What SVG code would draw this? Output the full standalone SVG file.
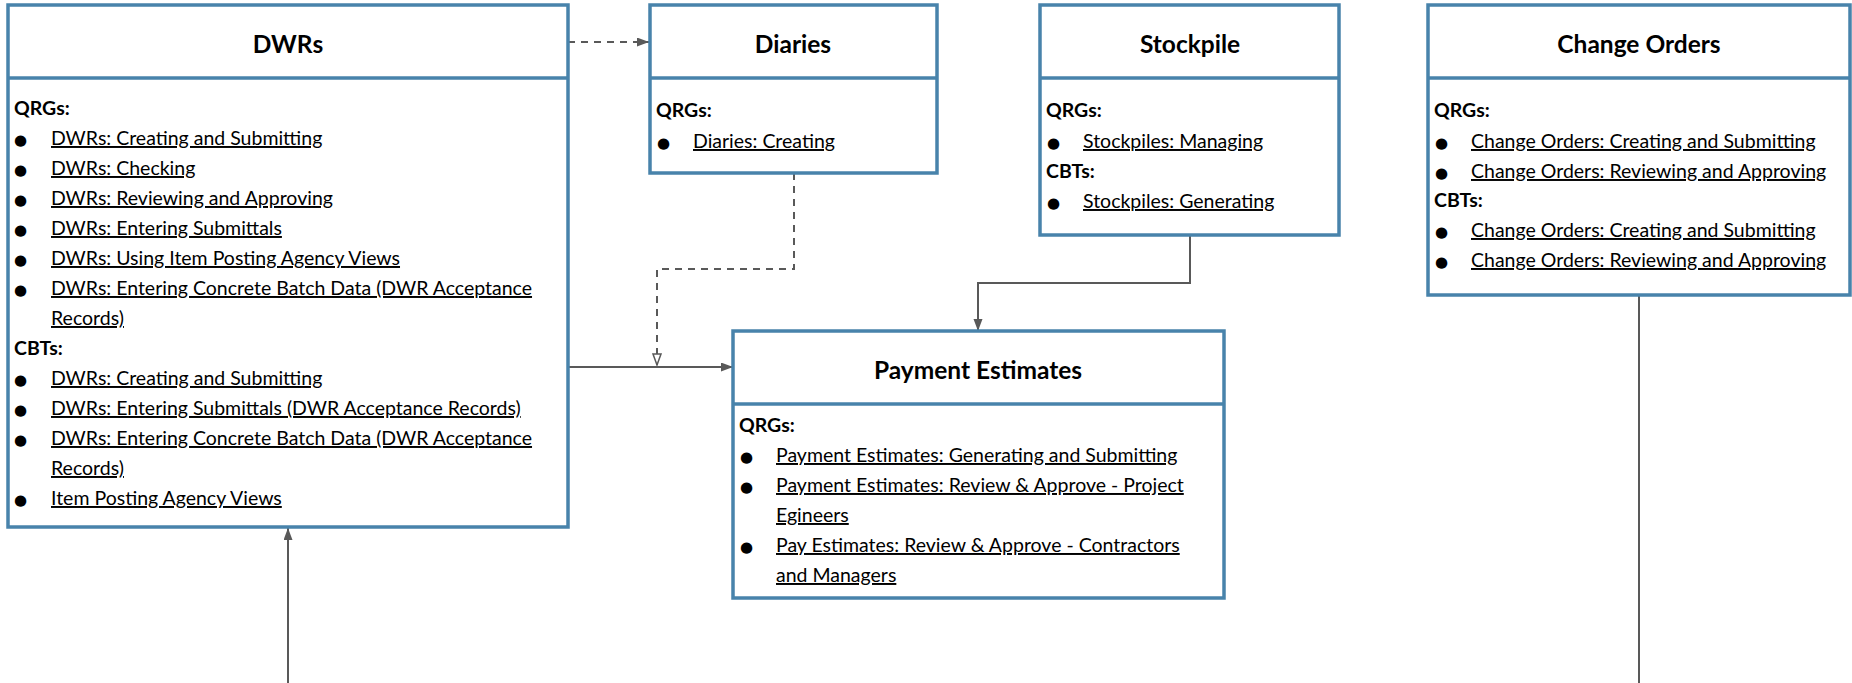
<svg xmlns="http://www.w3.org/2000/svg" width="1852" height="683" viewBox="0 0 1852 683">
<style>
.box{fill:#fff;stroke:#4883ab;stroke-width:3.5}
.div{stroke:#4883ab;stroke-width:3.5}
.title{font-family:Lato,"Liberation Sans",sans-serif;font-weight:bold;font-size:24.5px;fill:#000;text-anchor:middle;dominant-baseline:central}
.h{font-family:Lato,"Liberation Sans",sans-serif;font-weight:bold;font-size:19.5px;fill:#000}
.i{font-family:Lato,"Liberation Sans",sans-serif;font-size:19.5px;fill:#000;text-decoration:underline}
.b{font-family:"DejaVu Sans",sans-serif;font-size:15px;fill:#000}
.c{fill:none;stroke:#595959;stroke-width:2}
.d{stroke-dasharray:7 6}
</style>
<defs>
<marker id="af" markerUnits="userSpaceOnUse" markerWidth="13" markerHeight="10" refX="12" refY="4.5" orient="auto"><path d="M0,0 L12,4.5 L0,9 z" fill="#595959"/></marker>
<marker id="ao" markerUnits="userSpaceOnUse" markerWidth="14" markerHeight="11" refX="12" refY="5" orient="auto"><path d="M1,1 L12,5 L1,9 z" fill="#fff" stroke="#595959" stroke-width="1.5"/></marker>
</defs>
<g id="connectors">
<path class="c d" d="M568,42 H649" marker-end="url(#af)"/>
<path class="c d" d="M794,173 V269 H657 V365" marker-end="url(#ao)"/>
<path class="c" d="M568,367 H733" marker-end="url(#af)"/>
<path class="c" d="M1190,235 V283 H978 V331" marker-end="url(#af)"/>
<path class="c" d="M288,683 V528" marker-end="url(#af)"/>
<path class="c" d="M1639,295 V683"/>
</g>
<g id="dwrs">
<rect class="box" x="8" y="5" width="560" height="522"/>
<line class="div" x1="8" y1="78" x2="568" y2="78"/>
<text class="title" x="288" y="43">DWRs</text>
<text class="h" x="14" y="115">QRGs:</text>
<text class="b" x="14" y="145">●</text><text class="i" x="51" y="145">DWRs: Creating and Submitting</text>
<text class="b" x="14" y="175">●</text><text class="i" x="51" y="175">DWRs: Checking</text>
<text class="b" x="14" y="205">●</text><text class="i" x="51" y="205">DWRs: Reviewing and Approving</text>
<text class="b" x="14" y="235">●</text><text class="i" x="51" y="235">DWRs: Entering Submittals</text>
<text class="b" x="14" y="265">●</text><text class="i" x="51" y="265">DWRs: Using Item Posting Agency Views</text>
<text class="b" x="14" y="295">●</text><text class="i" x="51" y="295">DWRs: Entering Concrete Batch Data (DWR Acceptance</text>
<text class="i" x="51" y="325">Records)</text>
<text class="h" x="14" y="355">CBTs:</text>
<text class="b" x="14" y="385">●</text><text class="i" x="51" y="385">DWRs: Creating and Submitting</text>
<text class="b" x="14" y="415">●</text><text class="i" x="51" y="415">DWRs: Entering Submittals (DWR Acceptance Records)</text>
<text class="b" x="14" y="445">●</text><text class="i" x="51" y="445">DWRs: Entering Concrete Batch Data (DWR Acceptance</text>
<text class="i" x="51" y="475">Records)</text>
<text class="b" x="14" y="505">●</text><text class="i" x="51" y="505">Item Posting Agency Views</text>
</g>
<g id="diaries">
<rect class="box" x="650" y="5" width="287" height="168"/>
<line class="div" x1="650" y1="78" x2="937" y2="78"/>
<text class="title" x="793" y="43">Diaries</text>
<text class="h" x="656" y="117">QRGs:</text>
<text class="b" x="657" y="148">●</text><text class="i" x="693" y="148">Diaries: Creating</text>
</g>
<g id="stockpile">
<rect class="box" x="1040" y="5" width="299" height="230"/>
<line class="div" x1="1040" y1="78" x2="1339" y2="78"/>
<text class="title" x="1190" y="43">Stockpile</text>
<text class="h" x="1046" y="117">QRGs:</text>
<text class="b" x="1047" y="148">●</text><text class="i" x="1083" y="148">Stockpiles: Managing</text>
<text class="h" x="1046" y="178">CBTs:</text>
<text class="b" x="1047" y="208">●</text><text class="i" x="1083" y="208">Stockpiles: Generating</text>
</g>
<g id="change-orders">
<rect class="box" x="1428" y="5" width="422" height="290"/>
<line class="div" x1="1428" y1="78" x2="1850" y2="78"/>
<text class="title" x="1639" y="43">Change Orders</text>
<text class="h" x="1434" y="117">QRGs:</text>
<text class="b" x="1435" y="148">●</text><text class="i" x="1471" y="148">Change Orders: Creating and Submitting</text>
<text class="b" x="1435" y="178">●</text><text class="i" x="1471" y="178">Change Orders: Reviewing and Approving</text>
<text class="h" x="1434" y="207">CBTs:</text>
<text class="b" x="1435" y="237">●</text><text class="i" x="1471" y="237">Change Orders: Creating and Submitting</text>
<text class="b" x="1435" y="267">●</text><text class="i" x="1471" y="267">Change Orders: Reviewing and Approving</text>
</g>
<g id="payment-estimates">
<rect class="box" x="733" y="331" width="491" height="267"/>
<line class="div" x1="733" y1="404" x2="1224" y2="404"/>
<text class="title" x="978" y="369">Payment Estimates</text>
<text class="h" x="739" y="432">QRGs:</text>
<text class="b" x="740" y="462">●</text><text class="i" x="776" y="462">Payment Estimates: Generating and Submitting</text>
<text class="b" x="740" y="492">●</text><text class="i" x="776" y="492">Payment Estimates: Review &amp; Approve - Project</text>
<text class="i" x="776" y="522">Egineers</text>
<text class="b" x="740" y="552">●</text><text class="i" x="776" y="552">Pay Estimates: Review &amp; Approve - Contractors</text>
<text class="i" x="776" y="582">and Managers</text>
</g>
</svg>
